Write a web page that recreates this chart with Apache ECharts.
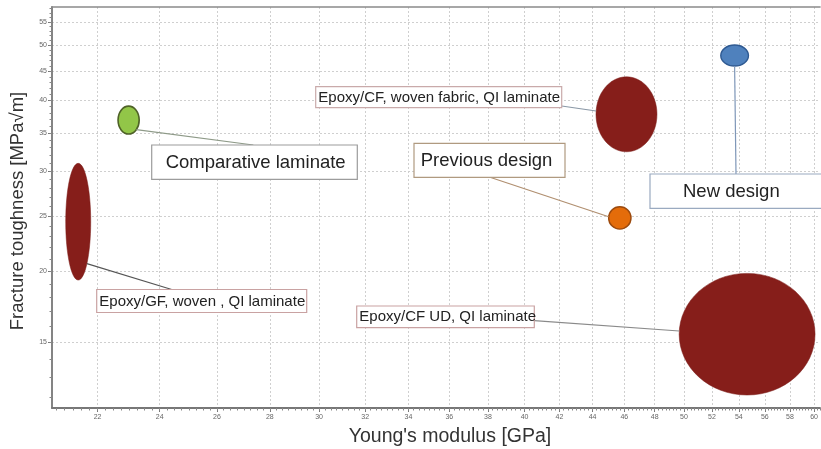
<!DOCTYPE html>
<html><head><meta charset="utf-8">
<script src="https://cdn.jsdelivr.net/npm/echarts@6/dist/echarts.min.js"></script>
<style>html,body{margin:0;padding:0;background:#fff;overflow:hidden}#c{width:821px;height:449px}</style>
</head><body><div id="c"></div>
<script>
// ---- data ----
const materials = ['Comparative laminate', 'Epoxy/GF, woven , QI laminate', 'Epoxy/CF, woven fabric, QI laminate', 'New design', 'Previous design', 'Epoxy/CF UD, QI laminate'];
const modulusMin = [22.64, 21.04, 44.21, 52.65, 45.00, 49.67];   // GPa
const modulusMax = [23.32, 21.79, 48.15, 54.73, 46.43, 60.08];
const toughMin   = [34.88, 19.29, 32.46, 45.96, 23.72, 12.10];   // MPa√m
const toughMax   = [39.07, 30.97, 44.00, 50.05, 25.97, 19.82];
const xTickLabels = [22, 24, 26, 28, 30, 32, 34, 36, 38, 40, 42, 44, 46, 48, 50, 52, 54, 56, 58, 60];
const yTickLabels = [15, 20, 25, 30, 35, 40, 45, 50, 55];

// ---- axis range & minor ticks ----
const X_MIN = 20.64, X_MAX = 60.5, Y_MIN = 11.48, Y_MAX = 58.4;
const xMinor = []; for (let v = 20.75; v <= 60.5; v += 0.25) xMinor.push(+v.toFixed(2));
const yMinor = []; for (let v = 12; v <= 58; v += 1) yMinor.push(v);

// ---- styles / layout ----
const markStyles = [
  {fill: '#92c648', stroke: '#4f6228', lw: 1.6},
  {fill: '#861e1a', stroke: '#7a1a16', lw: 0.5},
  {fill: '#861e1a', stroke: '#7a1a16', lw: 0.5},
  {fill: '#4f81bd', stroke: '#2f5a92', lw: 1.4},
  {fill: '#e46c0a', stroke: '#9c4a0e', lw: 1.4},
  {fill: '#861e1a', stroke: '#7a1a16', lw: 0.5}
];
const labelLayout = [
  {box: [151.7, 145, 205.6, 34.3], pad: 14, size: 18.5, border: '#9c9c9c', line: '#8e9a88', anchor: [253.3, 145], angle: 43},
  {box: [96.7, 289.5, 210, 23], pad: 2.6, size: 15, border: '#c9a2a2', line: '#555555', anchor: [171.7, 289.5], angle: 46},
  {box: [315.7, 86.7, 246, 21], pad: 2.6, size: 15, border: '#c9aaaa', line: '#8a98a6', anchor: [561.7, 106], angle: 185},
  {box: [650, 174, 180, 34.3], pad: 33, size: 18.5, border: '#9aaac0', line: '#7f97b8', anchor: [736, 174], angle: 90},
  {box: [414, 143.3, 151, 34], pad: 6.7, size: 18.5, border: '#b09a80', line: '#b08f70', anchor: [490, 177.3], angle: 186},
  {box: [356.7, 306, 177.6, 21.7], pad: 2.6, size: 15, border: '#c9a2a2', line: '#8a8a8a', anchor: [534.3, 320.7], angle: 183}
];

const seriesData = materials.map((m, i) => [modulusMin[i], modulusMax[i], toughMin[i], toughMax[i]]);

function renderItem(params, api) {
  const i = params.dataIndex;
  const p1 = api.coord([api.value(0), api.value(3)]);
  const p2 = api.coord([api.value(1), api.value(2)]);
  const cx = (p1[0] + p2[0]) / 2, cy = (p1[1] + p2[1]) / 2;
  const rx = Math.abs(p2[0] - p1[0]) / 2, ry = Math.abs(p2[1] - p1[1]) / 2;
  const st = markStyles[i], lay = labelLayout[i];
  const a = lay.angle * Math.PI / 180;
  const sx = cx + rx * Math.cos(a), sy = cy + ry * Math.sin(a);
  return {
    type: 'group',
    children: [
      {type: 'ellipse', shape: {cx: cx, cy: cy, rx: rx, ry: ry}, style: {fill: st.fill, stroke: st.stroke, lineWidth: st.lw}},
      {type: 'line', shape: {x1: sx, y1: sy, x2: lay.anchor[0], y2: lay.anchor[1]}, style: {stroke: lay.line, lineWidth: 1.2}},
      {type: 'rect', shape: {x: lay.box[0], y: lay.box[1], width: lay.box[2], height: lay.box[3]}, style: {fill: '#fff', stroke: lay.border, lineWidth: 1.2}},
      {type: 'text', style: {x: lay.box[0] + lay.pad, y: lay.box[1] + lay.box[3] / 2 + 0.5, text: materials[i], align: 'left', verticalAlign: 'middle', fontSize: lay.size, fontFamily: '"Liberation Sans", Arial, sans-serif', fill: '#222'}}
    ]
  };
}

const chart = echarts.init(document.getElementById('c'), null, {renderer: 'canvas'});
const tickFont = {fontSize: 7, color: '#666', fontFamily: '"Liberation Sans", Arial, sans-serif'};
chart.setOption({
  animation: false,
  backgroundColor: '#fff',
  grid: {left: 52, top: 7, right: 0, bottom: 41, show: false},
  xAxis: [
    {type: 'log', min: X_MIN, max: X_MAX, position: 'bottom',
     axisLine: {show: true, lineStyle: {color: '#777', width: 1.8}},
     axisTick: {show: true, customValues: xTickLabels, length: 4, lineStyle: {color: '#777'}},
     axisLabel: Object.assign({customValues: xTickLabels, margin: 6}, tickFont),
     splitLine: {show: true, lineStyle: {color: '#cfcfcf', width: 1, type: [2, 2]}}},
    {type: 'log', min: X_MIN, max: X_MAX, position: 'bottom',
     axisLine: {show: false},
     axisTick: {show: true, customValues: xMinor, length: 2.5, lineStyle: {color: '#888'}},
     axisLabel: {show: false}, splitLine: {show: false}},
    {type: 'log', min: X_MIN, max: X_MAX, position: 'top',
     axisLine: {show: true, lineStyle: {color: '#8a8a8a', width: 1.5}},
     axisTick: {show: false}, axisLabel: {show: false}, splitLine: {show: false}}
  ],
  yAxis: [
    {type: 'log', min: Y_MIN, max: Y_MAX, position: 'left',
     axisLine: {show: true, lineStyle: {color: '#777', width: 1.8}},
     axisTick: {show: true, customValues: yTickLabels, length: 4, lineStyle: {color: '#777'}},
     axisLabel: Object.assign({customValues: yTickLabels, margin: 5}, tickFont),
     splitLine: {show: true, lineStyle: {color: '#cfcfcf', width: 1, type: [2, 2]}}},
    {type: 'log', min: Y_MIN, max: Y_MAX, position: 'left',
     axisLine: {show: false},
     axisTick: {show: true, customValues: yMinor, length: 2.5, lineStyle: {color: '#888'}},
     axisLabel: {show: false}, splitLine: {show: false}}
  ],
  graphic: [
    {type: 'text', x: 450, y: 437, style: {text: "Young's modulus [GPa]", fontSize: 19.5, fontFamily: '"Liberation Sans", Arial, sans-serif', fill: '#333', align: 'center', verticalAlign: 'middle'}},
    {type: 'text', x: 18, y: 211, rotation: Math.PI / 2, style: {text: 'Fracture toughness [MPa√m]', fontSize: 18.5, fontFamily: '"Liberation Sans", Arial, sans-serif', fill: '#333', align: 'center', verticalAlign: 'middle'}}
  ],
  series: [{
    type: 'custom', xAxisIndex: 0, yAxisIndex: 0, clip: false,
    renderItem: renderItem,
    encode: {x: [0, 1], y: [2, 3]},
    data: seriesData
  }]
});
</script></body></html>
